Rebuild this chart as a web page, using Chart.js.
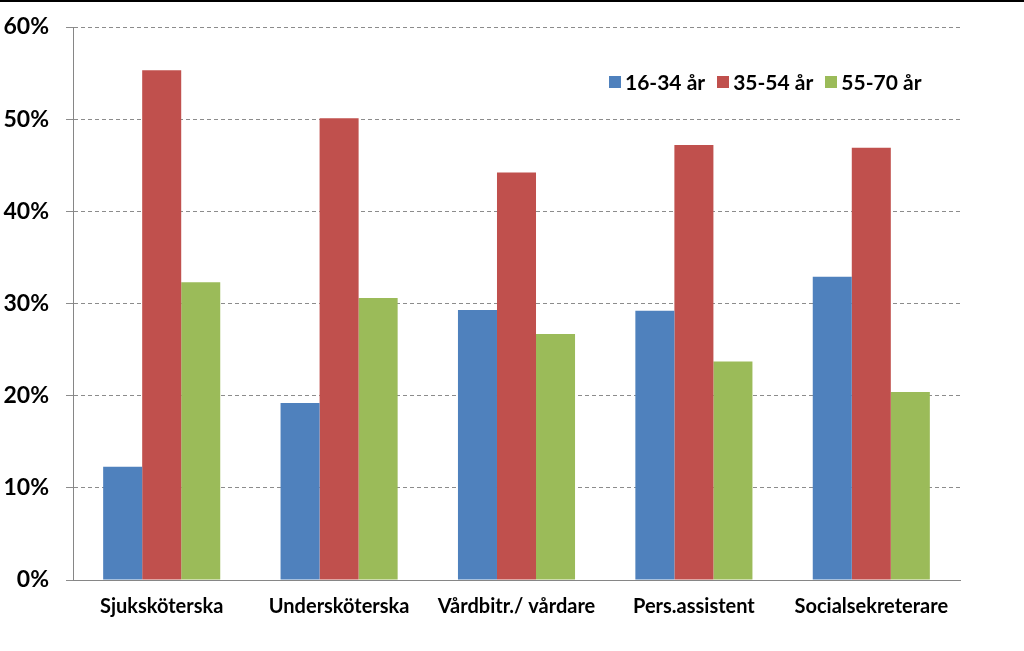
<!DOCTYPE html>
<html>
<head>
<meta charset="utf-8">
<script src="https://cdn.jsdelivr.net/npm/chart.js@4.4.1/dist/chart.umd.min.js"></script>
<style>
  html, body { margin: 0; padding: 0; background: #fff; }
  #wrap { position: relative; width: 1024px; height: 651px; }
  #topline { position: absolute; left: 0; top: 0; width: 1024px; height: 2px; background: #000; }
  #legend { position: absolute; left: 609px; top: 69px; display: flex; align-items: center;
            font-family: Lato, "Open Sans", sans-serif; font-weight: bold; font-size: 21px; color: #000; }
  #legend span.box { display: inline-block; width: 12px; height: 12px; margin-right: 4px; }
  #legend span.item { margin-right: 12px; display: flex; align-items: center; }
</style>
</head>
<body>
<div id="wrap">
  <canvas id="myGraph" width="1024" height="651"></canvas>
  <div id="topline"></div>
  <div id="legend"></div>
</div>
<script>
// chart data
const categories = ["Sjuksköterska", "Undersköterska", "Vårdbitr./ vårdare", "Pers.assistent", "Socialsekreterare"];
const seriesNames = ["16-34 år", "35-54 år", "55-70 år"];
const young = [12.3, 19.2, 29.3, 29.2, 32.9];
const middle = [55.3, 50.1, 44.2, 47.2, 46.9];
const old = [32.3, 30.6, 26.7, 23.7, 20.4];
const colors = ["#4F81BD", "#C0504D", "#9BBB59"];
const yTicks = [0, 10, 20, 30, 40, 50, 60];

const ctx = document.getElementById("myGraph");

// legend in html, placed inside the plot like the original
const legendDiv = document.getElementById("legend");
seriesNames.forEach(function (name, i) {
    legendDiv.innerHTML += `<span class="item"><span class="box" style="background:${colors[i]}"></span>${name}</span>`;
});

let myChart = new Chart(ctx, {
    type: "bar",
    data: {
        labels: categories,
        datasets: [young, middle, old].map(function (vals, i) {
            return {
                label: seriesNames[i],
                data: vals,
                backgroundColor: colors[i],
                borderWidth: 0,
                categoryPercentage: 0.66,
                barPercentage: 1.0
            };
        })
    },
    options: {
        responsive: false,
        animation: false,
        layout: { padding: { top: 27, right: 64, left: 0, bottom: 0 } },
        plugins: {
            legend: { display: false },
            tooltip: { enabled: false }
        },
        scales: {
            x: {
                grid: { display: false, drawTicks: false },
                border: { color: "#868686", width: 1 },
                ticks: {
                    padding: 15,
                    color: "#000",
                    font: { family: "Lato, 'Open Sans', sans-serif", size: 20, weight: "bold" },
                    maxRotation: 0,
                    autoSkip: false
                },
                afterFit: function (scale) { scale.height = 71; }
            },
            y: {
                min: 0,
                max: 60,
                afterBuildTicks: function (scale) {
                    scale.ticks = yTicks.map(function (v) { return { value: v }; });
                },
                grid: { color: "#8c8c8c", lineWidth: 1, tickLength: 7, tickColor: "#8c8c8c" },
                border: { color: "#868686", width: 1, dash: [4, 3] },
                ticks: {
                    padding: 17,
                    color: "#000",
                    font: { family: "Lato, 'Open Sans', sans-serif", size: 23, weight: "bold", lineHeight: 1 },
                    callback: function (v) { return v + "%"; }
                },
                afterFit: function (scale) { scale.width = 73; scale.paddingTop = 0; scale.paddingBottom = 0; }
            }
        }
    }
});
</script>
</body>
</html>
